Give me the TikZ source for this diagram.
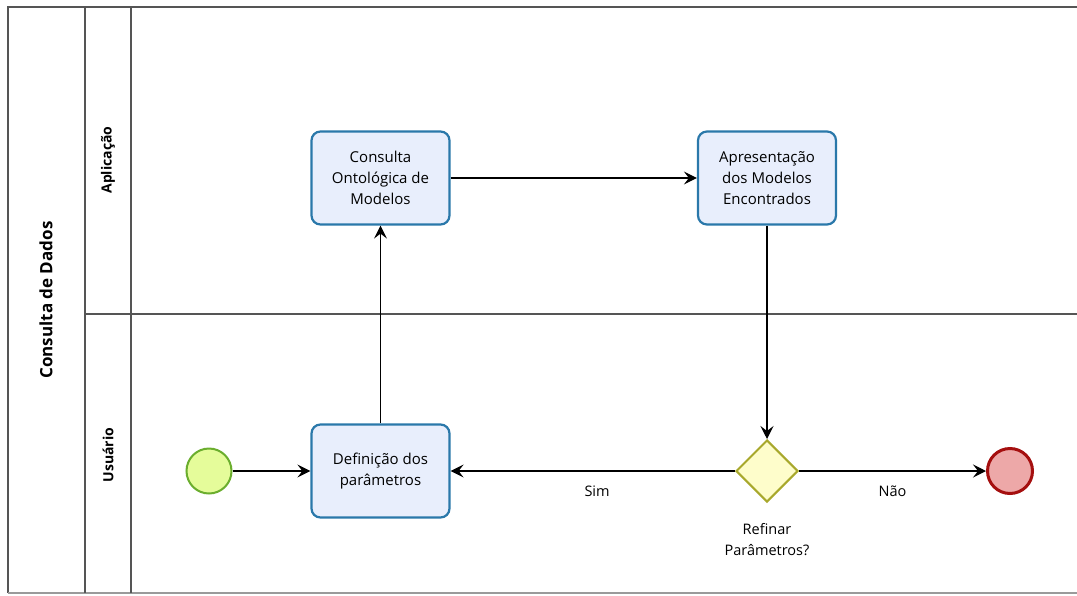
\documentclass[tikz,border=0pt]{standalone}
\usepackage{fontspec}
\setmainfont{Open Sans}
\usetikzlibrary{shapes.geometric,arrows.meta}
\definecolor{taskfill}{HTML}{E8EEFC}
\definecolor{taskline}{HTML}{2A78AA}
\definecolor{startfill}{HTML}{E5FC9A}
\definecolor{startline}{HTML}{6BAE2E}
\definecolor{endfill}{HTML}{EDA8A8}
\definecolor{endline}{HTML}{A50F0F}
\definecolor{gwfill}{HTML}{FEFDCB}
\definecolor{gwline}{HTML}{A8A82C}
\definecolor{poolline}{HTML}{555555}
\definecolor{bottomline}{HTML}{9A9A9A}
\tikzset{
  task/.style={draw=taskline, fill=taskfill, line width=2.2pt, rounded corners=9pt,
    minimum width=138pt, minimum height=93pt, align=center, inner sep=2pt,
    font=\fontsize{15}{21}\selectfont},
  startev/.style={circle, draw=startline, fill=startfill, line width=2pt, minimum size=45pt, inner sep=0pt},
  endev/.style={circle, draw=endline, fill=endfill, line width=3pt, minimum size=45pt, inner sep=0pt},
  gw/.style={diamond, draw=gwline, fill=gwfill, line width=2pt, minimum width=62pt, minimum height=62pt, inner sep=0pt},
  flow/.style={draw=black, line width=1.2pt, -{Stealth[length=13pt,width=13pt,inset=5pt]}},
  lbl/.style={font=\fontsize{14.5}{21}\selectfont, align=center},
  lanetxt/.style={font=\bfseries\fontsize{14}{17}\selectfont, rotate=90},
  pooltxt/.style={font=\bfseries\fontsize{17}{20}\selectfont, rotate=90},
  poolln/.style={draw=poolline, line width=1.2pt}
}
\begin{document}
\begin{tikzpicture}[x=1pt,y=-1pt]
\useasboundingbox (0,0) rectangle (1077,595);
\fill[white] (0,0) rectangle (1077,595);
% pool and lanes
\draw[poolln] (1085,7) -- (8,7) -- (8,593);
\draw[draw=bottomline, line width=1.2pt] (8,593) -- (1085,593);
\draw[poolln] (85,7) -- (85,593);
\draw[poolln] (131,7) -- (131,593);
\draw[poolln] (85,314) -- (1085,314);
\node[pooltxt] (pool) at (46,300) {Consulta de Dados};
\node[lanetxt] (lapp) at (108,160) {Aplicação};
\node[lanetxt] (lusr) at (108,455) {Usuário};
% nodes
\node[task] (cons) at (380.5,178) {Consulta\\Ontológica de\\Modelos};
\node[task] (apre) at (767,178) {Apresentação\\dos Modelos\\Encontrados};
\node[task] (def) at (380.5,471) {Definição dos\\parâmetros};
\node[startev] (start) at (209,471) {};
\node[endev] (stop) at (1010,471) {};
\node[gw] (gate) at (767,471) {};
\node[lbl] (gatelbl) at (767,540) {Refinar\\Parâmetros?};
% flows
\draw[flow] (start) -- (def);
\draw[flow] (def) -- (cons);
\draw[flow] (cons) -- (apre);
\draw[flow] (apre) -- (gate);
\draw[flow] (gate) -- node[lbl, below=11pt, pos=0.485] (sim) {Sim} (def);
\draw[flow] (gate) -- node[lbl, below=11pt, pos=0.5] (nao) {Não} (stop);
\end{tikzpicture}
\end{document}
